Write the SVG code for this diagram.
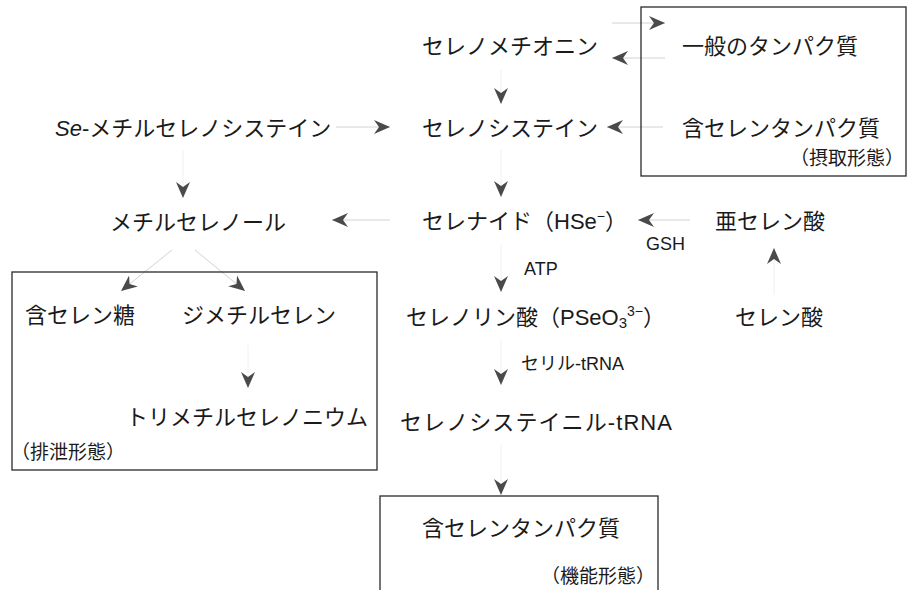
<svg xmlns="http://www.w3.org/2000/svg" width="907" height="590" viewBox="0 0 907 590">
<defs>
<marker id="ah" markerUnits="userSpaceOnUse" markerWidth="17" markerHeight="15" refX="16" refY="7" orient="auto" viewBox="0 0 17 14">
<path d="M0,0 L16,7 L0,14 L5,7 Z" fill="#4a4a4a"/>
</marker>
</defs>
<style>
text{font-family:"Liberation Sans","Noto Sans CJK JP",sans-serif;fill:#1a1a1a}
.m{font-size:22px}
.s{font-size:19px}
.l{font-size:18px}
.box{fill:none;stroke:#2a2a2a;stroke-width:1.3}
.c{stroke:#d2d2d2;stroke-width:1;fill:none;marker-end:url(#ah)}
.v{stroke:#f0f0f0;stroke-width:1;fill:none;marker-end:url(#ah)}
</style>
<rect width="907" height="590" fill="#ffffff"/>
<g id="connectors">
<line class="c" x1="612" y1="23" x2="665" y2="23"/>
<line class="c" x1="665" y1="58" x2="612" y2="58"/>
<line class="v" x1="501" y1="70" x2="501" y2="104"/>
<line class="c" x1="663" y1="127" x2="607" y2="127"/>
<line class="c" x1="336" y1="127" x2="390" y2="127"/>
<line class="v" x1="501" y1="150" x2="501" y2="197"/>
<line class="v" x1="183" y1="150" x2="183" y2="198"/>
<line class="c" x1="390" y1="220" x2="332" y2="220"/>
<line class="c" x1="690" y1="220" x2="638" y2="220"/>
<line class="v" x1="774" y1="295" x2="774" y2="248"/>
<line class="v" x1="501" y1="245" x2="501" y2="292"/>
<line class="c" x1="172" y1="250" x2="121" y2="291"/>
<line class="c" x1="195" y1="250" x2="245" y2="291"/>
<line class="v" x1="248" y1="345" x2="248" y2="388"/>
<line class="v" x1="501" y1="340" x2="501" y2="385"/>
<line class="v" x1="501" y1="445" x2="501" y2="495"/>
</g>
<g id="intake-box">
<rect class="box" x="641" y="7" width="265" height="169"/>
<text class="s" x="790" y="165">（摂取形態）</text>
</g>
<g id="general-protein"><text class="m" x="682" y="54">一般のタンパク質</text></g>
<g id="se-protein-intake"><text class="m" x="682" y="136">含セレンタンパク質</text></g>
<g id="selenomethionine"><text class="m" x="422" y="54">セレノメチオニン</text></g>
<g id="selenocysteine"><text class="m" x="422" y="136">セレノシステイン</text></g>
<g id="se-methylselenocysteine"><text class="m" x="55" y="136"><tspan font-style="italic">Se</tspan>-メチルセレノシステイン</text></g>
<g id="methylselenol"><text class="m" x="110" y="230">メチルセレノール</text></g>
<g id="selenide"><text class="m" x="422" y="229">セレナイド（HSe<tspan font-size="14" dy="-8">−</tspan><tspan dy="8">）</tspan></text></g>
<g id="selenite"><text class="m" x="715" y="229">亜セレン酸</text></g>
<g id="gsh"><text class="l" x="646" y="250">GSH</text></g>
<g id="selenate"><text class="m" x="735" y="325">セレン酸</text></g>
<g id="atp"><text class="l" x="524" y="275">ATP</text></g>
<g id="selenophosphate"><text class="m" x="406" y="325">セレノリン酸（PSeO<tspan font-size="15" dy="3">3</tspan><tspan font-size="14" dy="-12">3−</tspan><tspan dy="9">）</tspan></text></g>
<g id="seryl-trna"><text class="l" x="521" y="370">セリル-tRNA</text></g>
<g id="selenocysteinyl-trna"><text class="m" x="400" y="430" textLength="272" lengthAdjust="spacing">セレノシステイニル-tRNA</text></g>
<g id="excretion-box">
<rect class="box" x="12" y="272" width="365" height="198"/>
<text class="s" x="11" y="459">（排泄形態）</text>
</g>
<g id="se-sugar"><text class="m" x="25" y="323">含セレン糖</text></g>
<g id="dimethylselenide"><text class="m" x="182" y="323">ジメチルセレン</text></g>
<g id="trimethylselenonium"><text class="m" x="126" y="425">トリメチルセレノニウム</text></g>
<g id="functional-box">
<rect class="box" x="380" y="496" width="278" height="110"/>
<text class="s" x="541" y="583">（機能形態）</text>
</g>
<g id="se-protein-functional"><text class="m" x="422" y="536">含セレンタンパク質</text></g>
</svg>
